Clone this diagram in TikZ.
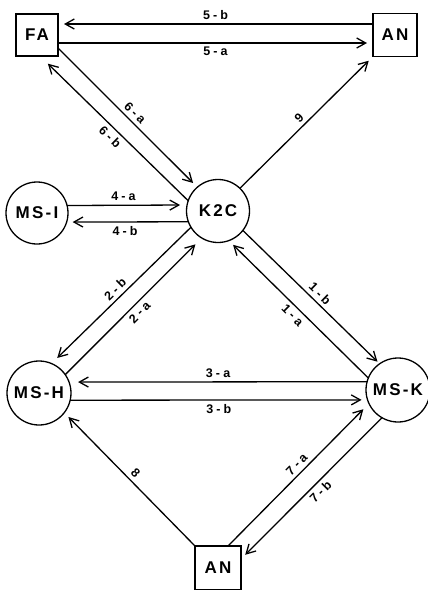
\documentclass[tikz,border=0pt]{standalone}
\usepackage{fontspec}
\setmainfont{Liberation Sans}
\newfontfamily\nodefont[LetterSpace=13]{Liberation Sans}
\newfontfamily\labelfont[LetterSpace=25]{Liberation Sans}
\usetikzlibrary{arrows.meta}
\begin{document}
\begin{tikzpicture}[x=1pt,y=-1pt,
  box/.style={draw, line width=1.3pt, rectangle, inner sep=0pt, outer sep=0pt, font=\nodefont\bfseries\fontsize{17}{17}\selectfont},
  circ/.style={draw, line width=1.3pt, circle, inner sep=0pt, outer sep=0pt, font=\nodefont\bfseries\fontsize{17}{17}\selectfont},
  arr/.style={line width=1.3pt, -{Straight Barb[length=9pt,width=10pt]}, shorten >=6pt},
  lab/.style={font=\labelfont\bfseries\fontsize{12.5}{12.5}\selectfont, inner sep=3.5pt}]
\useasboundingbox (0,0) rectangle (428,590);
\node[box, minimum width=42pt, minimum height=42pt] (fa) at (37,35) {FA};
\node[box, minimum width=44pt, minimum height=43pt] (ant) at (395,35) {AN};
\node[circ, minimum size=62pt] (msi) at (37,213) {MS-I};
\node[circ, minimum size=63pt] (k2c) at (218,211) {K2C};
\node[circ, minimum size=64pt] (msh) at (39,393) {MS-H};
\node[circ, minimum size=64pt] (msk) at (398,390) {MS-K};
\node[box, minimum width=46pt, minimum height=44pt] (anb) at (218,568) {AN};
\draw[arr] ([yshift=11pt]ant.west) -- node[lab,above]{5-b} ([yshift=11pt]fa.east);
\draw[arr] ([yshift=-8pt]fa.east) -- node[lab,below]{5-a} ([yshift=-8pt]ant.west);
\draw[arr] ([yshift=-13pt]fa.east) -- node[lab,sloped,above,pos=0.51]{6-a} (k2c.131);
\draw[arr, shorten >=11pt] (k2c.161) -- node[lab,sloped,below,pos=0.485]{6-b} ([xshift=3pt]fa.south);
\draw[arr] (k2c.46) -- node[lab,sloped,above,pos=0.49]{9} (ant.south west);
\draw[arr, shorten >=7pt] (msi.14) -- node[lab,above,pos=0.47]{4-a} (k2c.169);
\draw[arr] (k2c.200) -- node[lab,below,pos=0.52]{4-b} (msi.-17);
\draw[arr, shorten >=8pt] (k2c.211) -- node[lab,sloped,above]{2-b} (msh.67);
\draw[arr, shorten >=9pt] (msh.35) -- node[lab,sloped,below]{2-a} (k2c.239);
\draw[arr, shorten >=3pt] (k2c.-38) -- node[lab,sloped,above,pos=0.52]{1-b} (msk.125);
\draw[arr] (msk.158) -- node[lab,sloped,below]{1-a} (k2c.-70);
\draw[arr, shorten >=9pt] (msk.165) -- node[lab,above]{3-a} (msh.20);
\draw[arr] (msh.-13) -- node[lab,below]{3-b} (msk.198);
\draw[arr] (anb.north west) -- node[lab,sloped,above]{8} (msh.-38);
\draw[arr, shorten >=8pt] ([xshift=10pt]anb.north) -- node[lab,sloped,above,pos=0.53]{7-a} (msk.205);
\draw[arr] (msk.240) -- node[lab,sloped,below,pos=0.48]{7-b} ([yshift=9pt]anb.east);
\end{tikzpicture}
\end{document}
